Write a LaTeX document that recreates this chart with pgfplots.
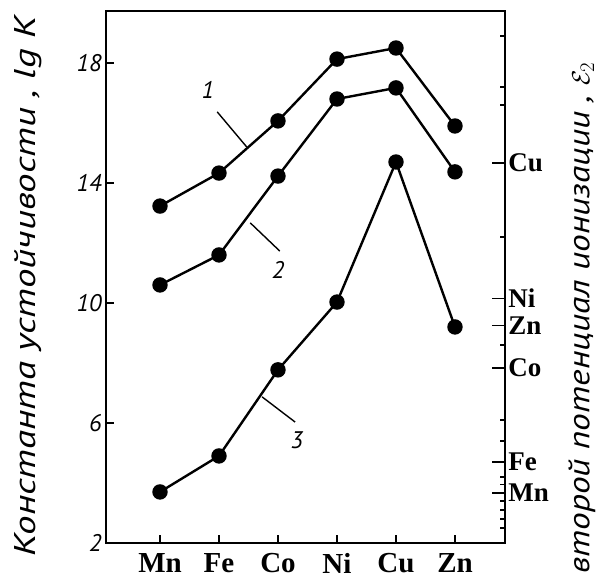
\documentclass[border=0pt]{standalone}
\usepackage{fontspec}
\setmainfont{Liberation Serif}
\newfontfamily\labfont{PT Sans}
\newfontfamily\lablong[FakeStretch=1.3]{PT Sans}
\newfontfamily\lablongr[FakeStretch=1.18]{PT Sans}
\usepackage{pgfplots}
\pgfplotsset{compat=1.18}
\begin{document}
\begin{tikzpicture}
\begin{axis}[
 scale only axis, width=399pt, height=532pt,
 xmin=-0.915, xmax=5.847, ymin=2, ymax=19.733,
 axis line style={line width=2.2pt},
 xtick={0,1,2,3,4,5}, xticklabels={Mn,Fe,Co,Ni,Cu,Zn},
 ytick={2,6,10,14,18}, yticklabels={2,6,10,14,18},
 tick align=inside, xtick pos=bottom, ytick pos=left,
 major tick length=8pt,
 tick style={line width=1.4pt, black},
 xticklabel style={font=\bfseries\fontsize{29}{29}\selectfont, yshift=-7pt},
 yticklabel style={font=\labfont\itshape\fontsize{24}{24}\selectfont, xshift=-1pt},
 clip=false,
]
\addplot[black, line width=2.4pt, mark=*, mark size=6.5pt] coordinates {(0,13.23) (1,14.33) (2,16.07) (3,18.13) (4,18.5) (5,15.9)};
\addplot[black, line width=2.4pt, mark=*, mark size=6.5pt] coordinates {(0,10.6) (1,11.6) (2,14.23) (3,16.8) (4,17.17) (5,14.37)};
\addplot[black, line width=2.4pt, mark=*, mark size=6.5pt] coordinates {(0,3.7) (1,4.9) (2,7.77) (3,10.03) (4,14.7) (5,9.2)};
\draw[line width=1.4pt] (axis cs:0.97,16.37) -- (axis cs:1.47,15.2);
\draw[line width=1.4pt] (axis cs:1.53,12.67) -- (axis cs:2.03,11.73);
\draw[line width=1.4pt] (axis cs:1.73,6.87) -- (axis cs:2.29,6.03);
\node[font=\labfont\itshape\fontsize{24}{24}\selectfont] at (axis cs:0.81,17.1) {1};
\node[font=\labfont\itshape\fontsize{24}{24}\selectfont] at (axis cs:2.0,11.1) {2};
\node[font=\labfont\itshape\fontsize{24}{24}\selectfont] at (axis cs:2.32,5.43) {3};
\node[rotate=90, font=\lablong\itshape\fontsize{30}{30}\selectfont] at (axis cs:-2.237,10.55) {Константа устойчивости , lg K};
\node[rotate=90, font=\lablongr\itshape\fontsize{30}{30}\selectfont] at (axis cs:7.15,9.5) {второй потенциал ионизации , $\mathcal{E}_2$};
\coordinate (bl) at (axis cs:-2.712,0.633);
\coordinate (tr) at (axis cs:7.475,20.1);
\end{axis}
\begin{axis}[
 scale only axis, width=399pt, height=532pt,
 xmin=-0.915, xmax=5.847, ymin=2, ymax=19.733,
 axis x line=none, axis y line*=right,
 axis line style={line width=2.2pt},
 ytick={14.67,10.15,9.25,7.83,4.7,3.67}, yticklabels={Cu,Ni,Zn,Co,Fe,Mn},
 minor ytick={2.5,2.8,3.1,3.4,3.95,4.2,5.4,6.1,8.6,12.2,16.6,17.2,18.9},
 tick align=inside,
 major tick length=13pt, minor tick length=5pt,
 tick style={line width=1.4pt, black},
 yticklabel style={font=\bfseries\fontsize{27}{27}\selectfont, xshift=0pt},
]
\end{axis}
\pgfresetboundingbox
\path[use as bounding box] (bl) rectangle (tr);
\end{tikzpicture}
\end{document}
